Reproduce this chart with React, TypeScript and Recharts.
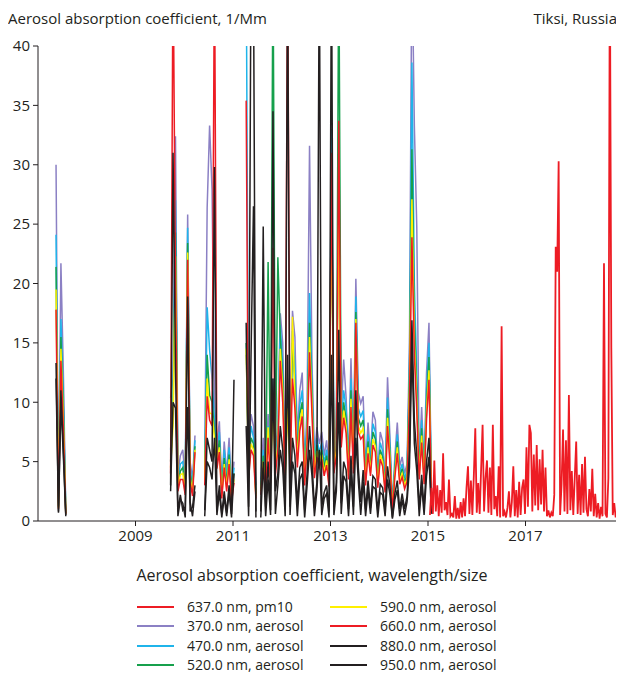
import React from "react";
import { ComposedChart, Line, XAxis, YAxis } from "recharts";

// aerosol samples every 0.05 yr from 2007.32, pm10 every 0.03 yr from 2015.04
const aerosolStart = 2007.32;
const aerosolStep = 0.05;
const pm10Start = 2015.04;
const pm10Step = 0.03;

const yearTicks = [2009, 2011, 2013, 2015, 2017];
const valueTicks = [0, 5, 10, 15, 20, 25, 30, 35, 40];

// no measurements in these stretches
const gap = (n: number): null[] => Array(n).fill(null);

const abs370 = [
  null, 30, 1.5, 21.7, 12.5, 0.8, ...gap(42),
  10.4, 12, 32.4, 4, 5.5, 6, 3.5, 25.8, 5, 3.5, 7.2, ...gap(3),
  5, 26.4, 33.3, 27.9, 10, 6.5, 8.4, 3, 6.7, 4, 7, 2.5, 5, ...gap(4),
  14, 6, 9, 8, 3, null,
  3.5, 7, 4, 9, 5, 11, 6, 8, 17.5, 15,
  5, 12, 6, 17.7, 15.5, 7, 11, 12.5, 4.5, 9.6,
  31.6, 13.4, 5.4, 7.9, 6.5, 7.5, 5.5, 6.8, 4.2, 30,
  6, 8, 30, 9, 13.6, 10.4, 5, 13.7, 6, 20.4,
  10.8, 9.9, 10.5, 4.5, 8.3, 5.5, 9.2, 8.5, 4, 7.5,
  6.7, 3.5, 12.1, 7, 1.2, 5.4, 8.3, 4.6, 5.4, 4,
  4.8, 15, 48, 33.3, 24.7, 5, 9.6, 4.5, 12.5, 16.7,
  3,
];

const abs470 = [
  null, 24.1, 1.3, 17, 10.5, 0.7, ...gap(42),
  6, 10, 27, 3.5, 4.8, 5, 3, 24.7, 4.4, 3, 6.8, ...gap(3),
  4.2, 18, 14.4, 12, 8.5, 5.8, 7.5, 2.6, 6, 3.5, 6.2, 2.2, 4.5, ...gap(4),
  48, 5, 8, 7, 2.6, null,
  3, 6, 3.5, 8, 4.5, 12, 5.2, 7.2, 16.5, 13,
  4.5, 11, 5.4, 16, 13, 6, 9.8, 11, 4, 8.5,
  19.2, 11.5, 4.8, 7, 5.8, 6.6, 4.9, 6, 3.8, 33,
  5.3, 7, 28, 8, 11, 9.5, 4.5, 12, 5.3, 18.9,
  9.5, 8.8, 9.3, 4, 7.3, 4.9, 8.2, 7.5, 3.6, 6.6,
  5.9, 3.1, 10.4, 6.2, 1.1, 4.8, 7.3, 4.1, 4.8, 3.6,
  4.3, 13, 38.6, 20, 12.5, 4.5, 8.5, 4, 11, 15,
  2.7,
];

const abs520 = [
  null, 21.4, 1.2, 15.5, 9.5, 0.7, ...gap(42),
  5, 9, 24.3, 3, 4.2, 4.5, 2.7, 23.4, 4, 2.6, 6.3, ...gap(3),
  3.8, 14, 10.6, 10, 7.5, 5.2, 6.8, 2.4, 5.3, 3.1, 5.6, 2, 4, ...gap(4),
  15, 4.5, 7, 6.5, 2.3, null,
  2.7, 5.5, 3.2, 21.8, 4, 48, 4.8, 22.2, 15.5, 12,
  4, 10, 4.9, 15, 11.5, 5.5, 9, 10, 3.6, 7.7,
  16.7, 10.5, 4.4, 6.4, 5.3, 6, 4.5, 5.5, 3.4, 29,
  4.8, 6.4, 48, 7.3, 10, 8.6, 4.1, 11, 4.8, 17.6,
  8.7, 8, 8.5, 3.6, 6.7, 4.5, 7.5, 6.9, 3.3, 6,
  5.4, 2.8, 9.4, 5.6, 1, 4.4, 6.7, 3.7, 4.4, 3.2,
  3.9, 12, 31.3, 17, 11, 4.1, 7.8, 3.6, 10, 13.8,
  2.4,
];

const abs590 = [
  null, 19.5, 1.1, 14.5, 8.5, 0.6, ...gap(42),
  4.5, 8, 22.3, 2.8, 3.9, 4, 2.4, 22.6, 3.6, 2.4, 6, ...gap(3),
  3.4, 12, 9.1, 9, 7, 4.8, 6.2, 2.1, 4.8, 2.8, 5.2, 1.8, 3.5, ...gap(4),
  14.5, 4, 6.5, 6, 2.1, null,
  2.5, 5, 2.9, 7.9, 3.5, 10, 4.3, 6.5, 14.5, 11,
  3.6, 9.5, 4.5, 17.2, 10.5, 5, 8.3, 9.4, 3.3, 7,
  15.5, 9.8, 4, 5.9, 4.9, 5.6, 4.1, 5.1, 3.1, 28,
  4.4, 5.9, 26, 6.7, 9.3, 8, 3.8, 10.3, 4.4, 17,
  8, 7.4, 7.8, 3.3, 6.2, 4.1, 6.9, 6.3, 3, 5.6,
  5, 2.6, 8.7, 5.2, 0.9, 4, 6.2, 3.4, 4, 3,
  3.6, 11, 27.1, 15, 10, 3.8, 7.2, 3.3, 9.3, 12.7,
  2.2,
];

const abs660 = [
  null, 17.8, 1, 13.5, 7.8, 0.6, ...gap(42),
  4, 48, 20, 2.5, 3.5, 3.5, 2.2, 22, 3.3, 2.1, 5.8, ...gap(3),
  3, 10.5, 8.5, 8, 48, 4.4, 5.8, 1.9, 4.5, 2.5, 4.8, 1.6, 3.2, ...gap(4),
  35.4, 3.6, 6, 5.5, 1.9, null,
  2.2, 4.5, 2.6, 7, 3.2, 23, 3.9, 6, 13.5, 10,
  3.2, 48, 4, 12, 9.5, 4.5, 7.6, 8.8, 3, 6.5,
  14.2, 9, 3.6, 5.4, 4.5, 5.2, 3.8, 4.7, 2.9, 31,
  4, 5.5, 33.7, 6.2, 8.7, 7.4, 3.5, 9.6, 4, 16.7,
  7.5, 6.9, 7.2, 3, 5.7, 3.8, 6.4, 5.8, 2.8, 5.2,
  4.6, 2.4, 8, 4.8, 0.8, 3.7, 5.7, 3.1, 3.7, 2.7,
  3.3, 10, 23.9, 14, 9.3, 3.5, 6.6, 3.1, 8.6, 11.9,
  2,
];

const abs880 = [
  null, 13.3, 0.8, 11, 6, 0.5, ...gap(42),
  3, 31, 13, 0.8, 2.2, 0.9, 1.2, 18.9, 0.8, 1.2, 3, ...gap(3),
  0.9, 7, 6, 5, 29.8, 0.8, 3, 0.6, 2.5, 0.7, 3, 0.6, 11.9, ...gap(4),
  16.7, 1.2, 48, 46, 0.8, null,
  0.8, 24.8, 1.2, 5, 0.9, 34.5, 2.5, 4, 8, 6,
  1, 47, 1.2, 7, 5.5, 1.4, 4.5, 5, 0.9, 4,
  8, 5, 1.1, 3.2, 48, 1.2, 2.4, 3, 0.8, 48,
  1.2, 3.2, 16.1, 1.5, 5, 4.3, 1, 5.5, 1.2, 11,
  4.5, 1.6, 4.3, 1, 3.4, 1.1, 3.8, 3.5, 0.8, 3.1,
  2.8, 0.9, 4.6, 2.9, 0.3, 2.3, 3.4, 1, 2.3, 1,
  2.1, 6, 16.9, 8.5, 5.5, 1, 3.9, 1.1, 5, 7,
  0.9,
];

const abs950 = [
  null, 12, 0.7, 10, 5.5, 0.4, ...gap(42),
  2.5, 10, 9.5, 0.4, 1.8, 1.5, 0.3, 9.6, 1.6, 0.4, 2.5, ...gap(3),
  0.4, 5, 4.5, 3.5, 7, 0.5, 2.4, 0.3, 2, 0.4, 2.4, 0.3, 4, ...gap(4),
  8, 0.4, 14, 26.5, 0.3, null,
  0.3, 5, 0.4, 3.5, 0.5, 12, 0.6, 3, 6, 4.5,
  0.4, 14, 0.5, 5, 4, 0.4, 3.5, 4, 0.3, 3,
  6, 3.8, 0.4, 2.5, 6, 0.5, 1.9, 2.3, 0.3, 14,
  0.5, 2.5, 10, 0.6, 3.8, 3.3, 0.4, 4.2, 0.5, 7,
  3.4, 0.5, 3.3, 0.4, 2.6, 0.6, 2.9, 2.7, 0.3, 2.4,
  2.2, 0.4, 3.5, 2.2, 0.2, 1.8, 2.6, 0.4, 1.8, 0.5,
  1.6, 4.5, 14.6, 6.5, 4.2, 0.4, 3, 0.5, 3.8, 5.4,
  0.6,
];

const pm10_637 = [
  0.5, 2.8, 0.6, 5.1, 0.8, 3.0, 0.4, 2.6, 0.7, 5.7,
  0.9, 1.6, 0.5, 3.5, 0.4, 0.6, 0.3, 2.1, 0.2, 1.1,
  0.2, 1.6, 0.3, 1.9, 0.4, 2.8, 4.6, 0.6, 3.4, 0.5,
  3.8, 7.8, 0.7, 3.2, 0.6, 4.4, 8.1, 0.8, 3.6, 5.1,
  0.7, 4.5, 0.5, 8.1, 1.0, 2.1, 0.4, 4.6, 0.3, 16.4,
  0.4, 0.8, 0.3, 1.1, 2.5, 0.3, 1.6, 4.6, 0.4, 2.6,
  0.3, 3.3, 0.5, 2.8, 3.5, 0.6, 6.2, 1.2, 8.1, 7.4,
  0.8, 5.6, 1.3, 6.4, 0.9, 5.2, 1.4, 6.0, 0.8, 4.5,
  0.4, 0.9, 0.3, 0.7, 0.4, 2.2, 23.1, 21.0, 30.3, 0.5,
  3.1, 7.7, 0.8, 6.8, 0.6, 10.6, 0.9, 4.2, 0.5, 3.6,
  6.7, 0.6, 3.9, 0.5, 4.8, 0.7, 5.4, 1.0, 0.4, 2.7,
  0.8, 4.4, 0.4, 2.3, 0.3, 1.5, 0.2, 1.2, 0.4, 21.7,
  0.6, 0.3, 3.6, 48, 14.6, 0.5, 1.5, 0.3,
];

const ink = "#231f20";
const font = "'Open Sans', sans-serif";

// draw order: shortest wavelength first, so longer ones sit on top
const aerosolSeries = [
  { key: "a370", name: "370.0 nm, aerosol", color: "#8b80c4", values: abs370 },
  { key: "a470", name: "470.0 nm, aerosol", color: "#1fb4ea", values: abs470 },
  { key: "a520", name: "520.0 nm, aerosol", color: "#16a04c", values: abs520 },
  { key: "a590", name: "590.0 nm, aerosol", color: "#fff000", values: abs590 },
  { key: "a660", name: "660.0 nm, aerosol", color: "#ed1c24", values: abs660 },
  { key: "a880", name: "880.0 nm, aerosol", color: ink, values: abs880 },
  { key: "a950", name: "950.0 nm, aerosol", color: ink, values: abs950 },
];
const pm10Series = { key: "pm10", name: "637.0 nm, pm10", color: "#ed1c24" };

const aerosolRows = abs370.map((_, i) => {
  const row: Record<string, number | null> = {
    year: +(aerosolStart + i * aerosolStep).toFixed(3),
  };
  aerosolSeries.forEach((s) => {
    row[s.key] = s.values[i];
  });
  return row;
});

const pm10Rows = pm10_637.map((v, i) => ({
  year: +(pm10Start + i * pm10Step).toFixed(3),
  pm10: v,
}));

const legendCols = [
  [pm10Series, aerosolSeries[0], aerosolSeries[1], aerosolSeries[2]],
  [aerosolSeries[3], aerosolSeries[4], aerosolSeries[5], aerosolSeries[6]],
];

export default function App() {
  return (
    <div style={{ position: "relative", width: 616, height: 665, fontFamily: font, color: ink }}>
      <div style={{ position: "absolute", top: 0, left: 0, height: 20, lineHeight: "20px", fontSize: 15 }}>
        Aerosol absorption coefficient, 1/Mm
      </div>
      <div style={{ position: "absolute", top: 0, right: 7, height: 20, lineHeight: "20px", fontSize: 15 }}>
        Tiksi, Russia
      </div>
      <ComposedChart width={616} height={543} margin={{ top: 38, right: 1, left: 0, bottom: 0 }}>
        <XAxis
          type="number"
          dataKey="year"
          domain={[2007, 2019]}
          ticks={yearTicks}
          allowDataOverflow
          height={30}
          tickSize={5}
          tickMargin={4}
          axisLine={{ stroke: ink }}
          tickLine={{ stroke: ink }}
          tick={{ fill: ink, fontSize: 15, fontFamily: font }}
        />
        <YAxis
          type="number"
          domain={[0, 40]}
          ticks={valueTicks}
          allowDataOverflow
          width={30}
          tickSize={5}
          tickMargin={3}
          axisLine={{ stroke: ink }}
          tickLine={{ stroke: ink }}
          tick={{ fill: ink, fontSize: 15, fontFamily: font }}
        />
        {aerosolSeries.map((s) => (
          <Line
            key={s.key}
            data={aerosolRows}
            dataKey={s.key}
            name={s.name}
            type="linear"
            stroke={s.color}
            strokeWidth={1.5}
            dot={false}
            isAnimationActive={false}
          />
        ))}
        <Line
          data={pm10Rows}
          dataKey="pm10"
          name={pm10Series.name}
          type="linear"
          stroke={pm10Series.color}
          strokeWidth={1.8}
          dot={false}
          isAnimationActive={false}
        />
      </ComposedChart>
      <div
        style={{
          position: "absolute",
          top: 557,
          left: 0,
          width: 608,
          height: 20,
          lineHeight: "20px",
          textAlign: "center",
          fontSize: 16,
        }}
      >
        Aerosol absorption coefficient, wavelength/size
      </div>
      {legendCols.map((col, c) =>
        col.map((s, r) => (
          <div
            key={s.key}
            style={{
              position: "absolute",
              top: 591 + r * 19.3,
              left: c === 0 ? 129 : 322,
              height: 16,
              lineHeight: "16px",
              display: "flex",
              alignItems: "center",
              fontSize: 14,
              whiteSpace: "nowrap",
            }}
          >
            <span style={{ display: "inline-block", width: 37, height: 2, background: s.color, marginRight: 13 }} />
            {s.name}
          </div>
        ))
      )}
    </div>
  );
}
